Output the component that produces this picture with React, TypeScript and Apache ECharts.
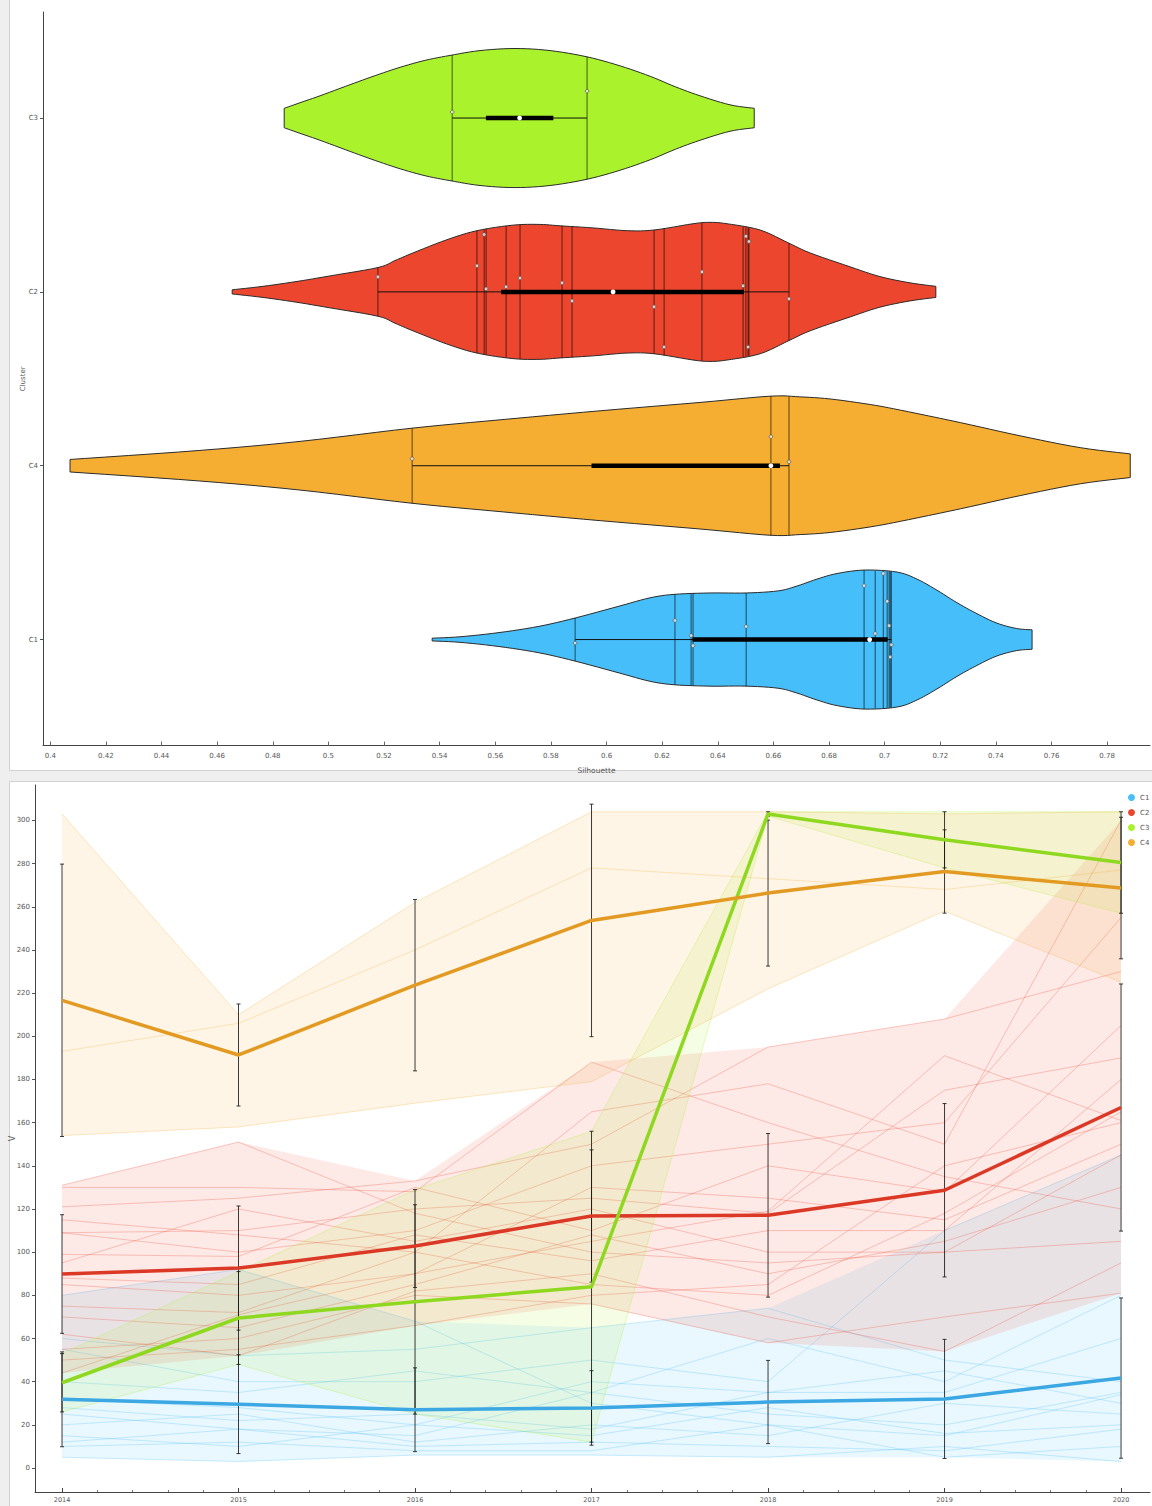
import React, { useEffect, useRef } from "react";
import * as echarts from "echarts";

// ---------------- Violin plot (Silhouette by cluster) ----------------
const violinRows = ["C1", "C4", "C2", "C3"]; // bottom -> top
const silTicks = [0.4, 0.42, 0.44, 0.46, 0.48, 0.5, 0.52, 0.54, 0.56, 0.58, 0.6, 0.62, 0.64, 0.66, 0.68, 0.7, 0.72, 0.74, 0.76, 0.78];

const silC1 = [0.5887, 0.6246, 0.6304, 0.6311, 0.6502, 0.6926, 0.6966, 0.6995, 0.7009, 0.7016, 0.702, 0.7024];
const silC2 = [0.5178, 0.5534, 0.556, 0.5567, 0.5639, 0.5689, 0.584, 0.5876, 0.6171, 0.6207, 0.6343, 0.6491, 0.6501, 0.6509, 0.6512, 0.6656];
const silC3 = [0.5445, 0.593];
const silC4 = [0.5301, 0.6591, 0.6656];

const jitterC1 = [-0.02, 0.11, 0.023, -0.035, 0.075, 0.31, 0.035, 0.38, 0.22, 0.08, -0.1, -0.03];
const jitterC2 = [0.086, 0.15, 0.33, 0.017, 0.029, 0.08, 0.052, -0.052, -0.086, -0.317, 0.115, 0.035, 0.32, -0.317, 0.29, -0.04];
const jitterC3 = [0.035, 0.155];
const jitterC4 = [0.04, 0.167, 0.023];

const densXC1 = [0.5373, 0.5473, 0.5613, 0.5757, 0.5887, 0.6045, 0.6156, 0.6243, 0.6372, 0.6502, 0.6617, 0.6685, 0.6757, 0.6829, 0.6929, 0.7045, 0.7116, 0.7188, 0.726, 0.7328, 0.7401, 0.7473, 0.753];
const densC1 = [0.02, 0.04, 0.1, 0.19, 0.31, 0.48, 0.6, 0.65, 0.67, 0.67, 0.7, 0.77, 0.87, 0.95, 1.0, 0.97, 0.87, 0.71, 0.53, 0.38, 0.24, 0.16, 0.14];
const densXC2 = [0.4654, 0.4765, 0.4887, 0.5006, 0.5178, 0.5239, 0.5304, 0.5426, 0.5534, 0.5664, 0.5761, 0.5833, 0.5952, 0.6074, 0.6171, 0.6311, 0.6372, 0.6433, 0.6552, 0.6656, 0.6732, 0.6876, 0.6983, 0.7091, 0.7184];
const densC2 = [0.03, 0.08, 0.15, 0.23, 0.35, 0.45, 0.56, 0.75, 0.88, 0.96, 0.97, 0.95, 0.92, 0.88, 0.89, 0.98, 1.0, 0.98, 0.89, 0.7, 0.56, 0.36, 0.22, 0.13, 0.08];
const densXC3 = [0.4841, 0.4898, 0.497, 0.5078, 0.5168, 0.5258, 0.5348, 0.5437, 0.5545, 0.5671, 0.5797, 0.593, 0.6049, 0.6157, 0.6247, 0.6336, 0.6444, 0.6531];
const densC3 = [0.14, 0.22, 0.32, 0.48, 0.61, 0.73, 0.83, 0.9, 0.97, 1.0, 0.97, 0.88, 0.75, 0.6, 0.45, 0.32, 0.19, 0.14];
const densXC4 = [0.4071, 0.4538, 0.4898, 0.5301, 0.5617, 0.5977, 0.6336, 0.6588, 0.6696, 0.6804, 0.6948, 0.7056, 0.7272, 0.7487, 0.7703, 0.7883];
const densC4 = [0.09, 0.22, 0.35, 0.54, 0.66, 0.79, 0.91, 1.0, 0.99, 0.96, 0.88, 0.8, 0.62, 0.43, 0.26, 0.17];

// ---------------- Line plot (values per year) ----------------
const years = [2014, 2015, 2016, 2017, 2018, 2019, 2020];
const yTicks = [0, 20, 40, 60, 80, 100, 120, 140, 160, 180, 200, 220, 240, 260, 280, 300];

const c1Lines = [
  [80, 92, 68, 30, 20, 15, 34],
  [60, 52, 55, 65, 74, 50, 40],
  [55, 40, 40, 50, 40, 110, 145],
  [40, 35, 45, 35, 60, 40, 80],
  [32, 28, 20, 40, 35, 35, 60],
  [28, 22, 25, 18, 35, 45, 30],
  [25, 18, 15, 35, 25, 20, 35],
  [20, 25, 12, 20, 15, 30, 25],
  [15, 10, 20, 15, 28, 16, 20],
  [12, 18, 10, 12, 10, 8, 18],
  [10, 12, 8, 8, 20, 5, 10],
  [5, 3, 6, 6, 5, 10, 3],
];
const c2Lines = [
  [131, 151, 118, 100, 95, 100, 105],
  [130, 130, 128, 188, 160, 135, 120],
  [121, 125, 133, 150, 195, 208, 230],
  [115, 108, 100, 165, 178, 150, 300],
  [109, 110, 120, 125, 118, 175, 190],
  [109, 100, 110, 140, 150, 160, 255],
  [99, 98, 130, 110, 140, 128, 205],
  [95, 120, 105, 120, 100, 100, 145],
  [88, 85, 108, 96, 110, 110, 180],
  [85, 80, 90, 130, 125, 115, 150],
  [75, 72, 100, 85, 80, 118, 165],
  [70, 65, 85, 108, 90, 105, 130],
  [62, 52, 82, 90, 70, 54, 95],
  [55, 60, 80, 76, 58, 70, 81],
  [50, 55, 66, 80, 85, 140, 160],
  [44, 71, 90, 105, 119, 191, 161],
];
const c3Lines = [
  [53, 91, 129, 156, 304, 304, 304],
  [26, 48, 25, 12, 302, 278, 257],
];
const c4Lines = [
  [303, 210, 262, 304, 304, 303, 304],
  [193, 206, 240, 278, 273, 268, 277],
  [154, 158, 169, 179, 222, 258, 225],
];

const baseColors: Record<string, string> = { C1: "#46befa", C2: "#ed462f", C3: "#aaf22b", C4: "#f5ae32" };
const meanColors: Record<string, string> = { C1: "#3ba7e3", C2: "#dc3826", C3: "#8fd820", C4: "#e39a22" };

const violinData: Record<string, { pts: number[]; jit: number[]; dx: number[]; dd: number[] }> = {
  C1: { pts: silC1, jit: jitterC1, dx: densXC1, dd: densC1 },
  C2: { pts: silC2, jit: jitterC2, dx: densXC2, dd: densC2 },
  C3: { pts: silC3, jit: jitterC3, dx: densXC3, dd: densC3 },
  C4: { pts: silC4, jit: jitterC4, dx: densXC4, dd: densC4 },
};
const lineData: Record<string, number[][]> = { C1: c1Lines, C2: c2Lines, C3: c3Lines, C4: c4Lines };

function rgba(hex: string, a: number) {
  const n = parseInt(hex.slice(1), 16);
  return `rgba(${(n >> 16) & 255},${(n >> 8) & 255},${n & 255},${a})`;
}
function quantile(sorted: number[], q: number) {
  const pos = (sorted.length - 1) * q;
  const lo = Math.floor(pos);
  const hi = Math.ceil(pos);
  return sorted[lo] + (sorted[hi] - sorted[lo]) * (pos - lo);
}
function interp(xs: number[], ys: number[], x: number) {
  if (x <= xs[0]) return ys[0];
  for (let i = 1; i < xs.length; i++) {
    if (x <= xs[i]) {
      const t = (x - xs[i - 1]) / (xs[i] - xs[i - 1]);
      return ys[i - 1] + (ys[i] - ys[i - 1]) * t;
    }
  }
  return ys[ys.length - 1];
}
// Catmull-Rom smoothing of an already-projected pixel outline (drawing only)
function smoothPts(p: number[][], steps = 6) {
  const out: number[][] = [];
  for (let i = 0; i < p.length - 1; i++) {
    const p0 = p[Math.max(0, i - 1)];
    const p1 = p[i];
    const p2 = p[i + 1];
    const p3 = p[Math.min(p.length - 1, i + 2)];
    for (let s = 0; s < steps; s++) {
      const t = s / steps;
      const t2 = t * t;
      const t3 = t2 * t;
      const f = (a: number, b: number, c: number, d: number) =>
        0.5 * (2 * b + (-a + c) * t + (2 * a - 5 * b + 4 * c - d) * t2 + (-a + 3 * b - 3 * c + d) * t3);
      out.push([f(p0[0], p1[0], p2[0], p3[0]), f(p0[1], p1[1], p2[1], p3[1])]);
    }
  }
  out.push(p[p.length - 1]);
  return out;
}

const HALF = 0.4;
const FONT = "DejaVu Sans";

function buildOption() {
  const series: any[] = [];

  // Violins
  series.push({
    type: "custom",
    name: "violins",
    xAxisIndex: 0,
    yAxisIndex: 0,
    silent: true,
    data: violinRows.map((_, i) => [0.6, i]),
    renderItem: (params: any, api: any) => {
      const row = api.value(1);
      const name = violinRows[row];
      const v = violinData[name];
      const top = smoothPts(v.dx.map((x, j) => api.coord([x, row + v.dd[j] * HALF])));
      const bot = smoothPts(v.dx.map((x, j) => api.coord([x, row - v.dd[j] * HALF]))).reverse();
      const children: any[] = [
        {
          type: "polygon",
          shape: { points: top.concat(bot) },
          style: { fill: baseColors[name], stroke: "#2b2b2b", lineWidth: 1 },
        },
      ];
      v.pts.forEach((p) => {
        const d = interp(v.dx, v.dd, p) * HALF;
        const a = api.coord([p, row + d]);
        const b = api.coord([p, row - d]);
        children.push({
          type: "line",
          shape: { x1: a[0], y1: a[1], x2: b[0], y2: b[1] },
          style: { stroke: "rgba(0,0,0,0.62)", lineWidth: 1 },
        });
      });
      const sorted = v.pts.slice().sort((a, b) => a - b);
      const mn = api.coord([sorted[0], row]);
      const mx = api.coord([sorted[sorted.length - 1], row]);
      const q1 = api.coord([quantile(sorted, 0.25), row]);
      const q3 = api.coord([quantile(sorted, 0.75), row]);
      const md = api.coord([quantile(sorted, 0.5), row]);
      children.push({
        type: "line",
        shape: { x1: mn[0], y1: mn[1], x2: mx[0], y2: mx[1] },
        style: { stroke: "#111", lineWidth: 1 },
      });
      children.push({
        type: "line",
        shape: { x1: q1[0], y1: q1[1], x2: q3[0], y2: q3[1] },
        style: { stroke: "#000", lineWidth: 4.5 },
      });
      children.push({
        type: "circle",
        shape: { cx: md[0], cy: md[1], r: 2.4 },
        style: { fill: "#ffffff", stroke: "#ffffff", lineWidth: 0 },
      });
      v.pts.forEach((p, k) => {
        const c = api.coord([p, row + v.jit[k]]);
        children.push({
          type: "circle",
          shape: { cx: c[0], cy: c[1], r: 1.8 },
          style: { fill: "rgba(255,255,255,0.75)", stroke: "#555", lineWidth: 0.7 },
        });
      });
      return { type: "group", children };
    },
  });

  const order = ["C1", "C2", "C3", "C4"];
  // Ranges and individual lines
  order.forEach((name) => {
    const lines = lineData[name];
    const lo = years.map((_, j) => Math.min(...lines.map((l) => l[j])));
    const hi = years.map((_, j) => Math.max(...lines.map((l) => l[j])));
    series.push({
      type: "custom",
      name: name + " range",
      xAxisIndex: 1,
      yAxisIndex: 1,
      silent: true,
      z: 1,
      data: [[2014, 0]],
      renderItem: (params: any, api: any) => {
        const top = years.map((y, j) => api.coord([y, hi[j]]));
        const bot = years.map((y, j) => api.coord([y, lo[j]])).reverse();
        const children: any[] = [
          { type: "polygon", shape: { points: top.concat(bot) }, style: { fill: rgba(baseColors[name], 0.12) } },
        ];
        lines.forEach((l) => {
          children.push({
            type: "polyline",
            shape: { points: years.map((y, j) => api.coord([y, l[j]])) },
            style: { stroke: rgba(baseColors[name], 0.28), lineWidth: 1, fill: null },
          });
        });
        return { type: "group", children };
      },
    });
  });

  // Error bars (mean ± sd)
  order.forEach((name) => {
    const lines = lineData[name];
    const stats = years.map((y, j) => {
      const vals = lines.map((l) => l[j]);
      const m = vals.reduce((a, b) => a + b, 0) / vals.length;
      const sd = Math.sqrt(vals.reduce((a, b) => a + (b - m) * (b - m), 0) / vals.length);
      return [y, m, sd];
    });
    series.push({
      type: "custom",
      name: name + " sd",
      xAxisIndex: 1,
      yAxisIndex: 1,
      silent: true,
      z: 3,
      data: stats,
      renderItem: (params: any, api: any) => {
        const x = api.value(0);
        const m = api.value(1);
        const s = api.value(2);
        const a = api.coord([x, m + s]);
        const b = api.coord([x, m - s]);
        const st = { stroke: "rgba(25,25,25,0.85)", lineWidth: 1 };
        return {
          type: "group",
          children: [
            { type: "line", shape: { x1: a[0], y1: a[1], x2: b[0], y2: b[1] }, style: st },
            { type: "line", shape: { x1: a[0] - 2, y1: a[1], x2: a[0] + 2, y2: a[1] }, style: st },
            { type: "line", shape: { x1: b[0] - 2, y1: b[1], x2: b[0] + 2, y2: b[1] }, style: st },
          ],
        };
      },
    });
  });

  // Mean lines
  order.forEach((name) => {
    const lines = lineData[name];
    const means = years.map((y, j) => [y, lines.reduce((a, l) => a + l[j], 0) / lines.length]);
    series.push({
      type: "line",
      name,
      xAxisIndex: 1,
      yAxisIndex: 1,
      z: 4,
      data: means,
      symbol: "none",
      color: meanColors[name],
      lineStyle: { color: meanColors[name], width: 3.5 },
    });
  });

  const minorTicks: number[] = [];
  years.forEach((y) => {
    [0.2, 0.4, 0.6, 0.8].forEach((f) => {
      if (y + f < 2020.16) minorTicks.push(y + f);
    });
  });

  const axisLineStyle = { onZero: false, lineStyle: { color: "#444", width: 1 } };
  const labelStyle = { color: "#555", fontFamily: FONT };

  return {
    animation: false,
    textStyle: { fontFamily: FONT },
    grid: [
      { left: 43, right: 2, top: 12, height: 733.6 },
      { left: 35, right: 2, top: 785, height: 707 },
    ],
    legend: {
      left: 1123,
      top: 789,
      orient: "vertical",
      icon: "circle",
      itemWidth: 7,
      itemHeight: 7,
      itemGap: 8,
      textStyle: { fontSize: 7, color: "#555", fontFamily: FONT },
      data: order.map((n) => ({ name: n, itemStyle: { color: baseColors[n] } })),
    },
    xAxis: [
      {
        type: "value",
        gridIndex: 0,
        min: 0.39738,
        max: 0.7954,
        name: "Silhouette",
        nameLocation: "middle",
        nameGap: 21,
        nameMoveOverlap: false,
        nameTextStyle: { fontSize: 7.5, color: "#555", fontFamily: FONT },
        axisLine: axisLineStyle,
        axisTick: { show: true, inside: true, length: 4, customValues: silTicks, lineStyle: { color: "#666" } },
        axisLabel: {
          fontSize: 7,
          margin: 7,
          ...labelStyle,
          customValues: silTicks,
          formatter: (v: number) => String(Number(v.toFixed(2))),
        },
        splitLine: { show: false },
      },
      {
        type: "value",
        gridIndex: 1,
        min: 2013.847,
        max: 2020.164,
        axisLine: axisLineStyle,
        axisTick: { show: true, inside: true, length: 4, customValues: years, lineStyle: { color: "#444" } },
        axisLabel: { fontSize: 6.5, margin: 4, ...labelStyle, customValues: years, formatter: (v: number) => String(v) },
        splitLine: { show: false },
      },
      {
        type: "value",
        gridIndex: 1,
        min: 2013.847,
        max: 2020.164,
        position: "bottom",
        axisLine: { show: false, onZero: false },
        axisTick: { show: true, inside: true, length: 2, customValues: minorTicks, lineStyle: { color: "#777" } },
        axisLabel: { show: false },
        splitLine: { show: false },
      },
    ],
    yAxis: [
      {
        type: "value",
        gridIndex: 0,
        min: -0.61,
        max: 3.61,
        name: "Cluster",
        nameLocation: "middle",
        nameRotate: 90,
        nameGap: 17,
        nameMoveOverlap: false,
        nameTextStyle: { fontSize: 7, color: "#555", fontFamily: FONT },
        axisLine: { show: true, ...axisLineStyle },
        axisTick: { show: true, length: 3, customValues: [0, 1, 2, 3], lineStyle: { color: "#555" } },
        axisLabel: {
          fontSize: 7,
          margin: 5,
          ...labelStyle,
          customValues: [0, 1, 2, 3],
          formatter: (v: number) => violinRows[Math.round(v)] || "",
        },
        splitLine: { show: false },
      },
      {
        type: "value",
        gridIndex: 1,
        min: -11.1,
        max: 316.4,
        name: "V",
        nameLocation: "middle",
        nameRotate: 90,
        nameGap: 19,
        nameMoveOverlap: false,
        nameTextStyle: { fontSize: 8, color: "#666", fontFamily: FONT },
        axisLine: { show: true, ...axisLineStyle },
        axisTick: { show: true, length: 3, customValues: yTicks, lineStyle: { color: "#555" } },
        axisLabel: { fontSize: 7, margin: 5, ...labelStyle, customValues: yTicks, formatter: (v: number) => String(v) },
        splitLine: { show: false },
      },
    ],
    series,
  };
}

export default function App() {
  const ref = useRef<HTMLDivElement>(null);
  useEffect(() => {
    document.body.style.margin = "0";
    if (!ref.current) return;
    const chart = echarts.init(ref.current, null, { renderer: "svg" });
    chart.setOption(buildOption() as any);
    return () => chart.dispose();
  }, []);
  return (
    <div style={{ position: "relative", width: 1152, height: 1506, background: "#efefef", overflow: "hidden" }}>
      <div
        style={{
          position: "absolute",
          left: 9,
          top: 0,
          width: 1143,
          height: 770,
          background: "#ffffff",
          borderLeft: "1px solid #d2d2d2",
          borderBottom: "1px solid #d2d2d2",
        }}
      />
      <div
        style={{
          position: "absolute",
          left: 9,
          top: 781,
          width: 1143,
          height: 725,
          background: "#ffffff",
          borderLeft: "1px solid #d2d2d2",
          borderTop: "1px solid #d2d2d2",
        }}
      />
      <div ref={ref} style={{ position: "absolute", left: 0, top: 0, width: 1152, height: 1506 }} />
    </div>
  );
}
